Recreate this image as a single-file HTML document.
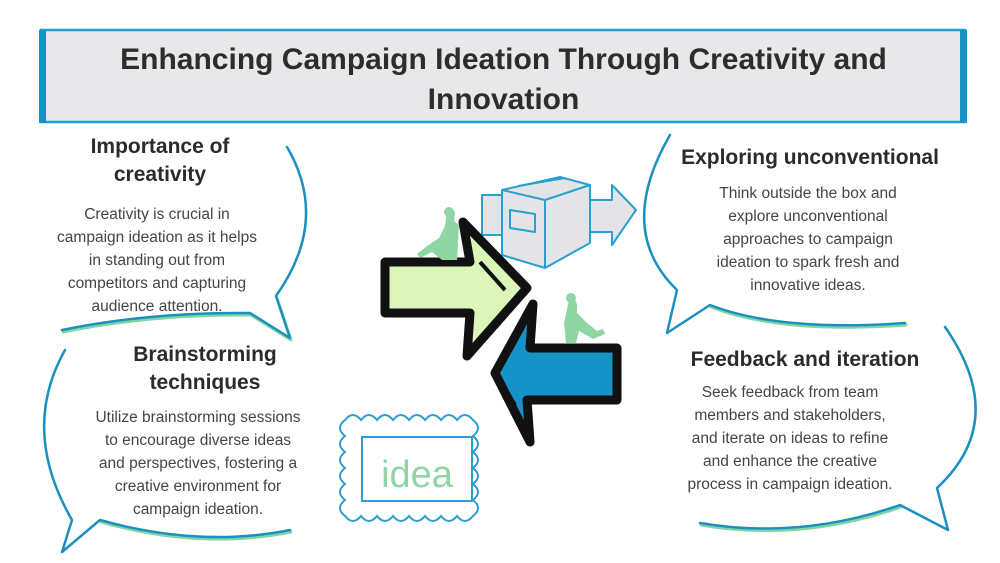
<!DOCTYPE html>
<html><head><meta charset="utf-8"><style>
body{margin:0;width:1000px;height:563px;background:#fff;position:relative;overflow:hidden;font-family:"Liberation Sans",sans-serif;color:#3a3a3a}
.t{position:absolute;text-align:center;white-space:nowrap}
.h{font-weight:bold;font-size:21px;color:#2b2b2b;line-height:28px}
.b{font-size:15.5px;line-height:23px;color:#444}
</style></head><body>
<svg width="1000" height="563" style="position:absolute;left:0;top:0">
<rect x="41" y="30" width="924" height="92" fill="#e8e8ea" stroke="#1e9fd2" stroke-width="2.5"/>
<rect x="39" y="30" width="7" height="93" fill="#1593c8"/>
<rect x="960" y="30" width="7" height="93" fill="#1593c8"/>
<g fill="none" stroke-linecap="round" stroke-linejoin="round">
<g stroke="#7fd6a4" stroke-width="3" transform="translate(1,2)">
<path d="M62,330 Q150,312 250,313 L290,338 L276,296"/>
<path d="M100,520 Q200,548 290,530"/>
<path d="M710,305 Q780,332 905,323"/>
<path d="M900,505 Q800,540 700,523"/>
</g>
<g stroke="#1a90c0" stroke-width="2.5">
<path d="M287,147 Q330,220 276,296 L290,338 L250,313 Q150,312 62,330"/>
<path d="M65,350 Q20,430 72,520 L62,552 L100,520 Q200,548 290,530"/>
<path d="M670,135 Q615,230 677,290 L667,333 L710,305 Q780,332 905,323"/>
<path d="M945,327 Q1010,420 937,488 L948,530 L900,505 Q800,540 700,523"/>
</g>
</g>
<!-- box icon -->
<g stroke="#2a9fd0" stroke-width="2" fill="#e4e4e8" stroke-linejoin="round">
<path d="M482,195 L512,195 L512,235 L482,235 Z"/>
<path d="M590,200 L612,200 L612,185 L636,210 L612,245 L612,232 L590,232 Z"/>
<path d="M502,190 L560,177 L590,185 L590,243 L545,268 L502,255 Z"/>
<path d="M502,190 L545,200 L590,185 M545,200 L545,268 M518,186 L565,178" fill="none"/>
<path d="M510,210 L535,214 L535,232 L510,228 Z" fill="none"/>
</g>
<!-- green arrow -->
<path d="M385,262 L470,262 L463,222 L527,288 L467,356 L470,313 L385,313 Z" fill="#dcf5b8" stroke="#111" stroke-width="9" stroke-linejoin="round"/>
<path d="M480,262 L505,290" stroke="#111" stroke-width="4"/>
<!-- blue arrow -->
<path d="M617,348 L530,348 L533,304 L495,373 L530,442 L527,400 L617,400 Z" fill="#1592c6" stroke="#111" stroke-width="9" stroke-linejoin="round"/>
<path d="M500,380 L515,405" stroke="#111" stroke-width="4"/>
<!-- people -->
<g fill="#8fd6a4">
<path d="M447,210 q6,-3 8,3 l-1,8 l5,4 l-2,35 l-15,0 l-10,-8 l-12,6 l-3,-4 l10,-8 l12,-8 l6,-12 z"/>
<circle cx="449" cy="212" r="5"/>
<path d="M569,300 q7,-2 8,5 l0,8 l10,10 l10,8 l6,-2 l2,5 l-12,5 l-14,-8 l-3,12 l-10,0 l-2,-20 z"/>
<circle cx="571" cy="298" r="5"/>
</g>
<!-- idea -->
<path d="M345,420 q8,-10 16,0 q8,-10 16,0 q8,-10 16,0 q8,-10 16,0 q8,-10 16,0 q8,-10 16,0 q8,-10 16,0 q8,-10 16,0 q10,8 0,16 q10,8 0,16 q10,8 0,16 q10,8 0,16 q10,8 0,16 q10,8 0,16 q-8,10 -16,0 q-8,10 -16,0 q-8,10 -16,0 q-8,10 -16,0 q-8,10 -16,0 q-8,10 -16,0 q-8,10 -16,0 q-8,10 -16,0 q-10,-8 0,-16 q-10,-8 0,-16 q-10,-8 0,-16 q-10,-8 0,-16 q-10,-8 0,-16 q-10,-8 0,-16 z" fill="none" stroke="#2a9fd0" stroke-width="2"/>
<rect x="362" y="437" width="110" height="64" fill="none" stroke="#2a9fd0" stroke-width="2"/>
<text x="417" y="487" text-anchor="middle" font-family="Liberation Sans, sans-serif" font-size="38" fill="#8fd6a4">idea</text>
</svg>
<div class="t" style="left:40px;width:927px;top:40px;font-size:30px;font-weight:bold;line-height:40px;color:#2d2d2d">Enhancing Campaign Ideation Through Creativity and<br>Innovation</div>
<div class="t h" style="left:60px;width:200px;top:133px">Importance of<br>creativity</div>
<div class="t b" style="left:37px;width:240px;top:203px">Creativity is crucial in<br>campaign ideation as it helps<br>in standing out from<br>competitors and capturing<br>audience attention.</div>
<div class="t h" style="left:95px;width:220px;top:341px">Brainstorming<br>techniques</div>
<div class="t b" style="left:78px;width:240px;top:406px">Utilize brainstorming sessions<br>to encourage diverse ideas<br>and perspectives, fostering a<br>creative environment for<br>campaign ideation.</div>
<div class="t h" style="left:660px;width:300px;top:144px">Exploring unconventional</div>
<div class="t b" style="left:688px;width:240px;top:182px">Think outside the box and<br>explore unconventional<br>approaches to campaign<br>ideation to spark fresh and<br>innovative ideas.</div>
<div class="t h" style="left:660px;width:290px;top:346px">Feedback and iteration</div>
<div class="t b" style="left:670px;width:240px;top:381px">Seek feedback from team<br>members and stakeholders,<br>and iterate on ideas to refine<br>and enhance the creative<br>process in campaign ideation.</div>
</body></html>
